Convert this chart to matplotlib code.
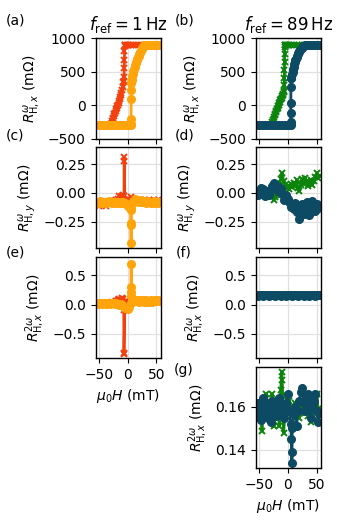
import numpy as np
import matplotlib
matplotlib.use("Agg")
import matplotlib.pyplot as plt

# colours
c_red = '#f2400f'
c_orange = '#ffa40a'
c_green = '#0c840c'
c_dark = '#0d4a63'

# common field grid for the noisy traces (mT)
H_grid = [-55, -52.5, -50, -47.5, -45, -42.5, -40, -37.5, -35, -32.5, -30, -27.5,
          -25, -22.5, -20, -17.5, -15, -12.5, -10, -7.5, -5, -2.5, 0, 2.5, 5, 7.5,
          10, 12.5, 15, 17.5, 20, 22.5, 25, 27.5, 30, 32.5, 35, 37.5, 40, 42.5, 45,
          47.5, 50, 52.5, 55]

# ---- (a) 1 Hz, first harmonic R_H,x ----
Ha_red = [55, 50, 45, 40, 35, 30, 25, 20, 15, 10, 5, 2, 0, -2, -4, -5, -5.4, -5.6,
          -5.8, -6.0, -6.4, -7, -7.5, -9, -10, -11, -12, -13, -14, -15, -16, -17,
          -18, -19, -20, -21, -22, -23, -24, -25, -26, -27, -28, -29, -30, -31,
          -35, -40, -45, -50, -55]
Ra_red = [900, 900, 900, 900, 900, 900, 900, 900, 900, 900, 900, 900, 900, 900, 900,
          900, 880, 800, 680, 560, 420, 360, 340, 270, 230, 190, 155, 120, 90, 60,
          35, 10, -10, -35, -60, -85, -110, -135, -160, -185, -210, -235, -255,
          -272, -285, -290, -290, -290, -290, -290, -290]
Ha_orange = [-55, -50, -45, -40, -35, -30, -25, -20, -15, -10, -5, 0, 3, 5, 5.6,
             5.8, 6.0, 6.1, 6.2, 6.4, 7, 8, 9, 10, 11, 12, 13, 14, 15, 16, 17, 18,
             19, 20, 21, 22, 23, 24, 25, 26, 27, 28, 29, 30, 32, 35, 40, 45, 50, 55]
Ra_orange = [-290, -290, -290, -290, -290, -290, -290, -290, -290, -290, -290, -290,
             -290, -290, -280, -200, 100, 230, 330, 350, 380, 430, 470, 505, 540,
             570, 600, 625, 650, 675, 695, 715, 735, 755, 775, 795, 812, 830, 845,
             860, 873, 883, 890, 895, 900, 900, 900, 900, 900, 900]

# ---- (b) 89 Hz, first harmonic R_H,x ----
Hb_green = [55, 50, 45, 40, 35, 30, 25, 20, 15, 10, 5, 2, 0, -2, -4, -5, -5.5, -5.7,
            -5.8, -5.9, -6.0, -6.1, -6.2, -6.4, -7, -8, -9, -10, -11, -12, -13, -14,
            -15, -16, -17, -18, -19, -20, -21, -22, -23, -24, -25, -26, -27, -28,
            -29, -30, -35, -40, -45, -50, -55]
Rb_green = [900, 900, 900, 900, 900, 900, 900, 900, 900, 900, 900, 900, 900, 900,
            900, 900, 890, 860, 760, 640, 520, 400, 300, 220, 195, 175, 155, 135,
            115, 95, 75, 55, 30, 10, -10, -35, -55, -80, -100, -125, -150, -175,
            -200, -225, -250, -270, -285, -290, -290, -290, -290, -290, -290]
Hb_dark = [-55, -50, -45, -40, -35, -30, -25, -20, -15, -10, -5, 0, 3, 4.5, 4.8,
           5.0, 5.1, 5.2, 5.3, 5.6, 6, 7, 8, 9, 10, 11, 12, 13, 14, 15, 16, 17, 18,
           19, 20, 22, 24, 26, 28, 30, 32, 34, 38, 42, 46, 50, 55]
Rb_dark = [-290, -290, -290, -290, -290, -290, -290, -290, -290, -290, -290, -290,
           -290, -285, -250, -120, 40, 275, 400, 405, 410, 460, 500, 540, 575, 610,
           640, 670, 695, 715, 735, 755, 772, 790, 805, 835, 858, 875, 887, 895,
           898, 900, 900, 900, 900, 900, 900]

# ---- (c) 1 Hz, first harmonic R_H,y ----
Hc_red = [-55, -52.5, -50, -47.5, -45, -42.5, -40, -37.5, -35, -32.5, -30, -27.5,
          -25, -22.5, -20, -17.5, -15, -12.5, -10, -7.5, -6.4, -6.2, -6.0, -5,
          -2.5, 0, 2.5, 5, 7.5, 10, 12.5, 15, 17.5, 20, 22.5, 25, 27.5, 30, 32.5,
          35, 37.5, 40, 42.5, 45, 47.5, 50, 52.5, 55]
Rc_red = [-0.10, -0.08, -0.11, -0.09, -0.10, -0.08, -0.09, -0.11, -0.09, -0.08,
          -0.10, -0.09, -0.08, -0.07, -0.06, -0.05, -0.03, -0.04, -0.03, -0.02,
          -0.03, 0.28, 0.31, -0.06, -0.07, -0.05, -0.06, -0.04, -0.05, -0.06,
          -0.07, -0.06, -0.08, -0.07, -0.06, -0.08, -0.07, -0.06, -0.08, -0.07,
          -0.06, -0.07, -0.08, -0.06, -0.07, -0.10, -0.06, -0.08]
Hc_orange = [-55, -52.5, -50, -47.5, -45, -42.5, -40, -37.5, -35, -32.5, -30, -27.5,
             -25, -22.5, -20, -17.5, -15, -12.5, -10, -7.5, -5, -2.5, 0, 2.5, 5,
             5.6, 5.9, 6.1, 6.3, 7.5, 10, 12.5, 15, 17.5, 20, 22.5, 25, 27.5, 30,
             32.5, 35, 37.5, 40, 42.5, 45, 47.5, 50, 52.5, 55]
Rc_orange = [-0.08, -0.09, -0.08, -0.07, -0.09, -0.08, -0.08, -0.09, -0.08, -0.07,
             -0.08, -0.09, -0.08, -0.08, -0.09, -0.08, -0.09, -0.08, -0.09, -0.08,
             -0.09, -0.10, -0.11, -0.12, -0.14, -0.28, -0.44, -0.26, -0.15, -0.10,
             -0.07, -0.05, -0.06, -0.07, -0.08, -0.06, -0.08, -0.07, -0.08, -0.09,
             -0.07, -0.08, -0.09, -0.08, -0.07, -0.09, -0.08, -0.09, -0.08]

# ---- (d) 89 Hz, first harmonic R_H,y ----
Rd_green = [0.01, 0.03, -0.01, 0.02, 0.00, -0.02, 0.01, -0.01, 0.02, 0.00, -0.02,
            -0.03, -0.06, -0.04, -0.02, 0.02, 0.06, 0.12, 0.17, 0.10, 0.07, 0.04,
            0.06, 0.03, 0.08, 0.05, 0.09, 0.06, 0.11, 0.04, 0.02, 0.07, 0.12, 0.08,
            0.13, 0.10, 0.06, 0.09, 0.11, 0.07, 0.10, 0.14, 0.17, 0.13, 0.15]
Rd_dark = [0.00, -0.02, 0.02, 0.04, -0.01, 0.03, -0.03, 0.02, 0.01, -0.02, 0.03,
           0.06, 0.09, 0.07, 0.04, 0.02, 0.05, 0.03, -0.01, -0.06, -0.04, -0.02,
           -0.05, -0.08, -0.12, -0.10, -0.14, -0.09, -0.17, -0.12, -0.23, -0.15,
           -0.10, -0.18, -0.12, -0.08, -0.15, -0.19, -0.11, -0.07, -0.13, -0.16,
           -0.10, -0.13, -0.11]

# ---- (e) 1 Hz, second harmonic R_H,x ----
He_red = [-55, -52.5, -50, -47.5, -45, -42.5, -40, -37.5, -35, -32.5, -30, -27.5,
          -25, -22.5, -20, -17.5, -15, -12.5, -10, -7.5, -6.8, -6.6, -6.4, -5,
          -2.5, 0, 2.5, 5, 7.5, 10, 12.5, 15, 17.5, 20, 22.5, 25, 27.5, 30, 32.5,
          35, 37.5, 40, 42.5, 45, 47.5, 50, 52.5, 55]
Re_red = [0.02, 0.03, 0.01, 0.02, 0.03, 0.02, 0.01, 0.03, 0.02, 0.03, 0.02, 0.04,
          0.03, 0.05, 0.06, 0.08, 0.10, 0.07, 0.12, 0.09, -0.09, -0.85, -0.82,
          0.05, 0.06, 0.04, 0.05, 0.06, 0.05, 0.06, 0.05, 0.07, 0.06, 0.05, 0.06,
          0.07, 0.06, 0.05, 0.06, 0.07, 0.06, 0.05, 0.06, 0.07, 0.06, 0.05, 0.06,
          0.07]
He_orange = [-55, -52.5, -50, -47.5, -45, -42.5, -40, -37.5, -35, -32.5, -30, -27.5,
             -25, -22.5, -20, -17.5, -15, -12.5, -10, -7.5, -5, -2.5, 0, 2.5, 5,
             5.6, 5.9, 6.1, 6.3, 7.5, 10, 12.5, 15, 17.5, 20, 22.5, 25, 27.5, 30,
             32.5, 35, 37.5, 40, 42.5, 45, 47.5, 50, 52.5, 55]
Re_orange = [0.02, 0.01, 0.02, 0.02, 0.01, 0.02, 0.02, 0.01, 0.02, 0.02, 0.01,
             0.02, 0.02, 0.01, 0.02, 0.01, 0.00, 0.01, -0.01, -0.03, -0.05, -0.06,
             -0.07, -0.04, 0.02, 0.21, 0.30, 0.69, 0.15, 0.08, 0.10, 0.07, 0.06,
             0.08, 0.05, 0.06, 0.07, 0.05, 0.06, 0.07, 0.05, 0.06, 0.07, 0.05, 0.06,
             0.07, 0.06, 0.07, 0.06]

# ---- (f) 89 Hz, second harmonic R_H,x ----
Rf_green = [0.156, 0.154, 0.157, 0.155, 0.156, 0.153, 0.157, 0.155, 0.156, 0.154,
            0.157, 0.155, 0.156, 0.154, 0.157, 0.155, 0.156, 0.154, 0.157, 0.155,
            0.156, 0.154, 0.157, 0.155, 0.156, 0.154, 0.157, 0.155, 0.156, 0.154,
            0.157, 0.155, 0.156, 0.154, 0.157, 0.155, 0.156, 0.154, 0.157, 0.155,
            0.156, 0.154, 0.157, 0.155, 0.156]
Rf_dark = [0.158, 0.161, 0.156, 0.154, 0.160, 0.164, 0.157, 0.161, 0.155, 0.159,
           0.153, 0.163, 0.158, 0.162, 0.156, 0.160, 0.164, 0.157, 0.161, 0.155,
           0.159, 0.162, 0.166, 0.158, 0.150, 0.157, 0.160, 0.151, 0.158, 0.163,
           0.167, 0.169, 0.162, 0.158, 0.164, 0.166, 0.160, 0.155, 0.161, 0.163,
           0.166, 0.158, 0.153, 0.157, 0.156]

# ---- (g) 89 Hz, second harmonic R_H,x (zoom) ----
Hg_green = [-55, -52.5, -50, -47.5, -45, -42.5, -40, -37.5, -35, -32.5, -30, -27.5,
            -25, -22.5, -20, -17.5, -15, -12.5, -10.5, -10, -9, -7.5, -5, -2.5, 0,
            2.5, 5, 7.5, 10, 12.5, 15, 17.5, 20, 22.5, 25, 27.5, 30, 32.5, 35, 37.5,
            40, 42.5, 45, 47.5, 50, 52.5, 55]
Rg_green = [0.160, 0.156, 0.162, 0.158, 0.149, 0.161, 0.164, 0.166, 0.159, 0.163,
            0.155, 0.166, 0.151, 0.160, 0.157, 0.163, 0.151, 0.168, 0.1765, 0.1725,
            0.165, 0.148, 0.157, 0.161, 0.158, 0.163, 0.160, 0.156, 0.159, 0.162,
            0.157, 0.160, 0.155, 0.163, 0.158, 0.161, 0.157, 0.160, 0.156, 0.162,
            0.153, 0.159, 0.157, 0.163, 0.166, 0.159, 0.158]
Hg_dark = [-55, -52.5, -50, -47.5, -45, -42.5, -40, -37.5, -35, -32.5, -30, -27.5,
           -25, -22.5, -20, -17.5, -15, -12.5, -10, -7.5, -5, -2.5, 0, 2.5, 5, 6,
           6.5, 7, 7.5, 10, 12.5, 15, 17.5, 20, 22.5, 25, 27.5, 30, 32.5, 35, 37.5,
           40, 42.5, 45, 47.5, 50, 52.5, 55]
Rg_dark = [0.158, 0.162, 0.156, 0.154, 0.160, 0.164, 0.157, 0.161, 0.155, 0.159,
           0.153, 0.163, 0.158, 0.162, 0.156, 0.160, 0.164, 0.157, 0.161, 0.155,
           0.159, 0.162, 0.166, 0.158, 0.152, 0.145, 0.139, 0.134, 0.150, 0.157,
           0.160, 0.151, 0.158, 0.163, 0.167, 0.169, 0.162, 0.158, 0.164, 0.166,
           0.160, 0.155, 0.161, 0.163, 0.166, 0.158, 0.153, 0.157]

W, Hpx = 337, 530
fig = plt.figure(figsize=(W / 100, Hpx / 100), dpi=100)
plt.rcParams['font.size'] = 10


def make_ax(x0, top, w=65, h=101):
    return fig.add_axes([x0 / W, 1 - (top + h) / Hpx, w / W, h / Hpx])


xl, xr = 95.5, 255.7
tops = [38, 147, 257, 367]

ax_a = make_ax(xl, tops[0])
ax_c = make_ax(xl, tops[1])
ax_e = make_ax(xl, tops[2])
ax_b = make_ax(xr, tops[0])
ax_d = make_ax(xr, tops[1])
ax_f = make_ax(xr, tops[2])
ax_g = make_ax(xr, tops[3])

kx = dict(marker='x', markersize=4.5, markeredgewidth=1.4, linewidth=2.0)
ko = dict(marker='o', markersize=5.5, linewidth=2.0)

ax_a.plot(Ha_red, Ra_red, color=c_red, **kx)
ax_a.plot(Ha_orange, Ra_orange, color=c_orange, **ko)
ax_b.plot(Hb_green, Rb_green, color=c_green, **kx)
ax_b.plot(Hb_dark, Rb_dark, color=c_dark, **ko)

ax_c.plot(Hc_red, Rc_red, color=c_red, **kx)
ax_c.plot(Hc_orange, Rc_orange, color=c_orange, **ko)
ax_d.plot(H_grid, Rd_green, color=c_green, **kx)
ax_d.plot(H_grid, Rd_dark, color=c_dark, **ko)

ax_e.plot(He_red, Re_red, color=c_red, **kx)
ax_e.plot(He_orange, Re_orange, color=c_orange, **ko)
ax_f.plot(H_grid, Rf_green, color=c_green, **kx)
ax_f.plot(H_grid, Rf_green, color=c_dark, **ko)

ax_g.plot(Hg_green, Rg_green, color=c_green, **kx)
ax_g.plot(Hg_dark, Rg_dark, color=c_dark, **ko)

for ax in [ax_a, ax_b]:
    ax.set_ylim(-500, 1000)
    ax.set_yticks([-500, 0, 500, 1000])
    ax.set_ylabel(r'$R^{\omega}_{\mathrm{H},x}$ (m$\Omega$)')
for ax in [ax_c, ax_d]:
    ax.set_ylim(-0.48, 0.40)
    ax.set_yticks([-0.25, 0.0, 0.25])
    ax.set_ylabel(r'$R^{\omega}_{\mathrm{H},y}$ (m$\Omega$)')
for ax in [ax_e, ax_f]:
    ax.set_ylim(-0.91, 0.81)
    ax.set_yticks([-0.5, 0.0, 0.5])
    ax.set_ylabel(r'$R^{2\omega}_{\mathrm{H},x}$ (m$\Omega$)')
ax_g.set_ylim(0.1316, 0.1786)
ax_g.set_yticks([0.14, 0.16])
ax_g.set_ylabel(r'$R^{2\omega}_{\mathrm{H},x}$ (m$\Omega$)')

for ax in [ax_a, ax_b, ax_c, ax_d, ax_e, ax_f, ax_g]:
    ax.set_xlim(-56, 57)
    ax.set_xticks([-50, 0, 50])
    ax.grid(True, color='#e0e0e0', linewidth=0.9)
    ax.set_axisbelow(True)
    for s in ax.spines.values():
        s.set_linewidth(1.0)
for ax in [ax_a, ax_b, ax_c, ax_d, ax_f]:
    ax.tick_params(labelbottom=False)
ax_e.set_xlabel(r'$\mu_0 H$ (mT)')
ax_g.set_xlabel(r'$\mu_0 H$ (mT)')

ax_a.set_title(r'$f_\mathrm{ref} = 1\,\mathrm{Hz}$', fontsize=12)
ax_b.set_title(r'$f_\mathrm{ref} = 89\,\mathrm{Hz}$', fontsize=12)

panel_pos = {'(a)': (15, 20), '(b)': (185, 20), '(c)': (15, 136), '(d)': (185, 136),
             '(e)': (15, 253), '(f)': (184, 253), '(g)': (184, 370)}
for lab, (px, py) in panel_pos.items():
    fig.text(px / W, 1 - py / Hpx, lab, ha='center', va='center', fontsize=10)

fig.savefig('out.png', dpi=100)
